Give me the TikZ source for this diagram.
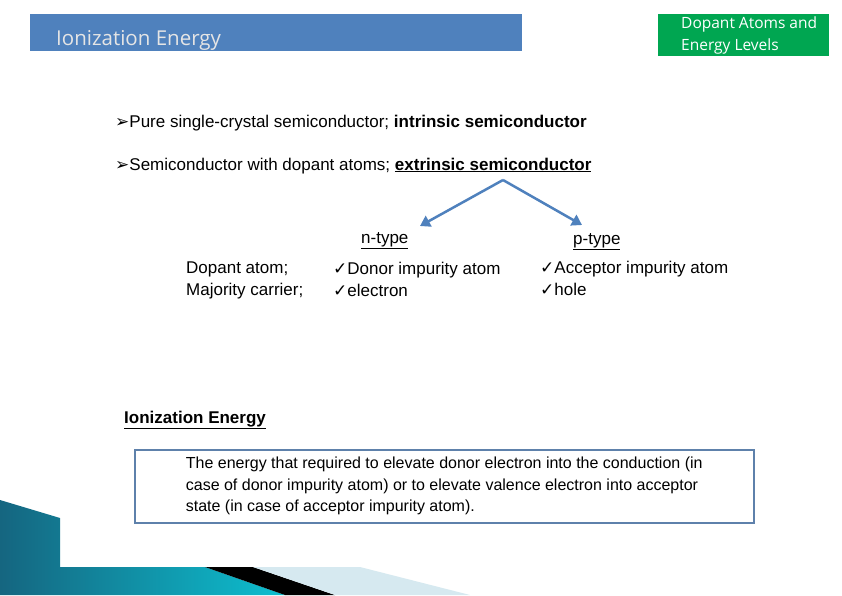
\documentclass[tikz,border=0pt]{standalone}
\usepackage{fontspec}
\setmainfont{Liberation Sans}
\newfontfamily\dv{DejaVu Sans}
\newfontfamily\ttl{Open Sans}
\usetikzlibrary{arrows.meta}
\definecolor{hblue}{HTML}{4F81BD}
\definecolor{hgreen}{HTML}{00A651}
\definecolor{teal1}{HTML}{1A7FA0}
\definecolor{lblue}{HTML}{D6E9F0}
\begin{document}
\begin{tikzpicture}[x=1pt,y=-1pt,
  txt/.style={anchor=base west,inner sep=0pt,font=\fontsize{17}{21.5}\selectfont},
  arr/.style={draw=hblue,line width=2.5pt,-{Triangle[length=10pt,width=12pt]}}]
\useasboundingbox (0,0) rectangle (842,595);
\fill[white] (0,0) rectangle (842,595);
% decoration
\shade[left color=teal1!80!black,right color=teal1!50!cyan] (0,500)--(60,518)--(60,567)--(205,567)--(285,595)--(0,595)--cycle;
\fill[black] (205,567)--(253,567)--(335,595)--(285,595)--cycle;
\fill[lblue] (253,567)--(360,567)--(470,595)--(335,595)--cycle;
% title bars
\fill[hblue] (30,14) rectangle (522,51);
\node[anchor=base west,inner sep=0pt,text=white!90!black,font=\ttl\fontsize{20.5}{24}\selectfont] (t1) at (56,45) {Ionization Energy};
\fill[hgreen] (658,14) rectangle (829,56);
\begin{scope}
\clip (658,14) rectangle (829,56);
\node[anchor=north west,inner sep=0pt,align=left,text=white,font=\ttl\fontsize{15.5}{22}\selectfont] (t2) at (681,17) {Dopant Atoms and\\Energy Levels};
\end{scope}
% bullets
\node[txt] (l1) at (115,127) {{\dv ➢}Pure single-crystal semiconductor; \textbf{intrinsic semiconductor}};
\node[txt] (l2) at (115,170) {{\dv ➢}Semiconductor with dopant atoms; \textbf{\underline{extrinsic semiconductor}}};
\coordinate (top) at (503,180);
\node[txt] (n) at (361,243) {\underline{n-type}};
\node[txt] (p) at (573,244) {\underline{p-type}};
\draw[arr] (top) -- (420,226);
\draw[arr] (top) -- (582,225);
\node[txt,align=left,anchor=north west] (d) at (186,262) {Dopant atom;\\Majority carrier;};
\node[txt,align=left,anchor=north west] (nd) at (333,262) {{\dv ✓}Donor impurity atom\\{\dv ✓}electron};
\node[txt,align=left,anchor=north west] (pd) at (540,261) {{\dv ✓}Acceptor impurity atom\\{\dv ✓}hole};
\node[txt] (ie) at (124,423) {\textbf{\underline{Ionization Energy}}};
\node[draw=hblue!70!gray,line width=1.5pt,anchor=north west,minimum width=619pt,minimum height=73pt,align=left,inner sep=0pt,inner xsep=8pt,font=\fontsize{16}{21.5}\selectfont] (box) at (134,449) {The energy that required to elevate donor electron into the conduction (in\\case of donor impurity atom) or to elevate valence electron into acceptor\\state (in case of acceptor impurity atom).};
\end{tikzpicture}
\end{document}
